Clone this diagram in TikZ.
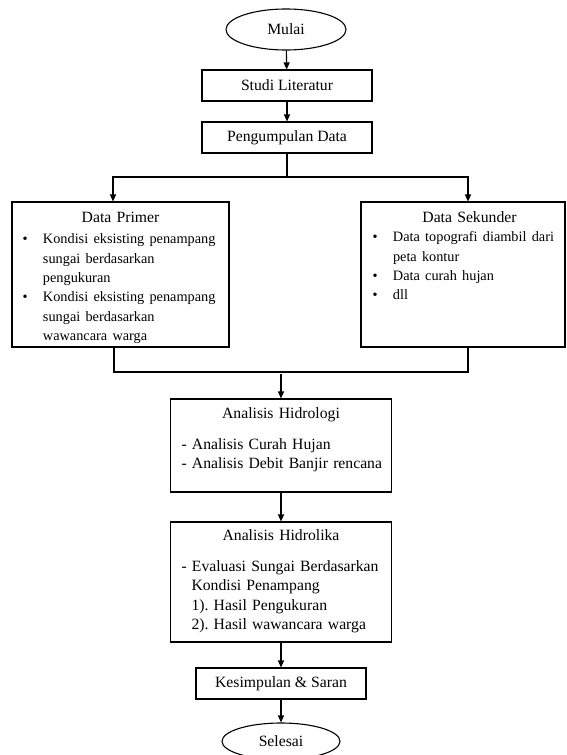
\documentclass[tikz,border=0pt]{standalone}
\usepackage{fontspec}
\setmainfont{Liberation Serif}
\usetikzlibrary{arrows.meta,shapes.geometric}
\frenchspacing

\begin{document}
\begin{tikzpicture}[x=1pt,y=-1pt,>={Triangle[length=7pt,width=6pt]},line width=1.1pt,
  font=\fontsize{15.7}{19.3}\selectfont,
  terminal/.style={ellipse,draw,inner sep=0pt},
  proses/.style={rectangle,draw,minimum width=170pt,minimum height=31pt,inner sep=0pt},
  data box/.style={rectangle,draw,inner sep=0pt,text height=20.5pt,text depth=124.5pt},
  analisis/.style={rectangle,draw,inner sep=0pt,text width=221pt}]

  \useasboundingbox (0,0) rectangle (566,755);

  \node[terminal,minimum width=120pt,minimum height=41pt] (mulai) at (286,29.5) {Mulai};
  \node[proses] (studi) at (287,85.5) {Studi Literatur};
  \node[proses] (kumpul) at (287,137.5) {Pengumpulan Data};

  \node[data box,text width=217pt] (primer) at (120.5,274.5) {%
    {\centering Data Primer\par}\vspace{2pt}
    \fontsize{14.3}{17.8}\selectfont
    \hspace*{10.5pt}\makebox[20.5pt][l]{\textbullet}Kondisi eksisting penampang\newline
    \hspace*{31pt}sungai berdasarkan\newline
    \hspace*{31pt}pengukuran\newline
    \hspace*{10.5pt}\makebox[20.5pt][l]{\textbullet}Kondisi eksisting penampang\newline
    \hspace*{31pt}sungai berdasarkan\newline
    \hspace*{31pt}wawancara warga};
  \node[data box,text width=204pt] (sekunder) at (463,274.5) {%
    {\centering\hspace*{13pt}Data Sekunder\par}
    \fontsize{14.3}{18.7}\selectfont
    \hspace*{11.5pt}\makebox[20.5pt][l]{\textbullet}Data topografi diambil dari\newline
    \hspace*{32pt}peta kontur\newline
    \hspace*{11.5pt}\makebox[20.5pt][l]{\textbullet}Data curah hujan\newline
    \hspace*{11.5pt}\makebox[20.5pt][l]{\textbullet}dll};

  \node[analisis,text height=19.5pt,text depth=73.5pt] (hidrologi) at (281,445.5) {%
    {\centering Analisis Hidrologi\par}\vspace{11.7pt}
    \hspace*{11pt}- Analisis Curah Hujan\newline
    \hspace*{11pt}- Analisis Debit Banjir rencana};
  \node[analisis,text height=18.5pt,text depth=101.5pt] (hidrolika) at (281,582) {%
    {\centering Analisis Hidrolika\par}\vspace{11.7pt}
    \hspace*{11pt}- Evaluasi Sungai Berdasarkan\newline
    \hspace*{21pt}Kondisi Penampang\newline
    \hspace*{21pt}1). Hasil Pengukuran\newline
    \hspace*{21pt}2). Hasil wawancara warga};
  \node[proses] (simpulan) at (281,683.5) {Kesimpulan \& Saran};
  \node[terminal,minimum width=118pt,minimum height=36.6pt] (selesai) at (281,741.3) {Selesai};

  \coordinate (cabang) at (287,177);
  \coordinate (kiri) at (113,177);
  \coordinate (kanan) at (468,177);
  \coordinate (gkiri) at (114,372);
  \coordinate (gkanan) at (468,372);
  \coordinate (gabung) at (281,372);

  \draw[->] (mulai) -- (studi);
  \draw[->] (studi) -- (kumpul);
  \draw (kumpul) -- (cabang);
  \draw[->] (cabang) -- (kiri) -- (kiri |- primer.north);
  \draw[->] (cabang) -- (kanan) -- (kanan |- sekunder.north);
  \draw (gkiri |- primer.south) -- (gkiri) -- (gkanan) -- (gkanan |- sekunder.south);
  \draw[->,shorten <=2pt] (gabung) -- (hidrologi);
  \draw[->] (hidrologi) -- (hidrolika);
  \draw[->] (hidrolika) -- (simpulan);
  \draw[->] (simpulan) -- (selesai);

\end{tikzpicture}
\end{document}
